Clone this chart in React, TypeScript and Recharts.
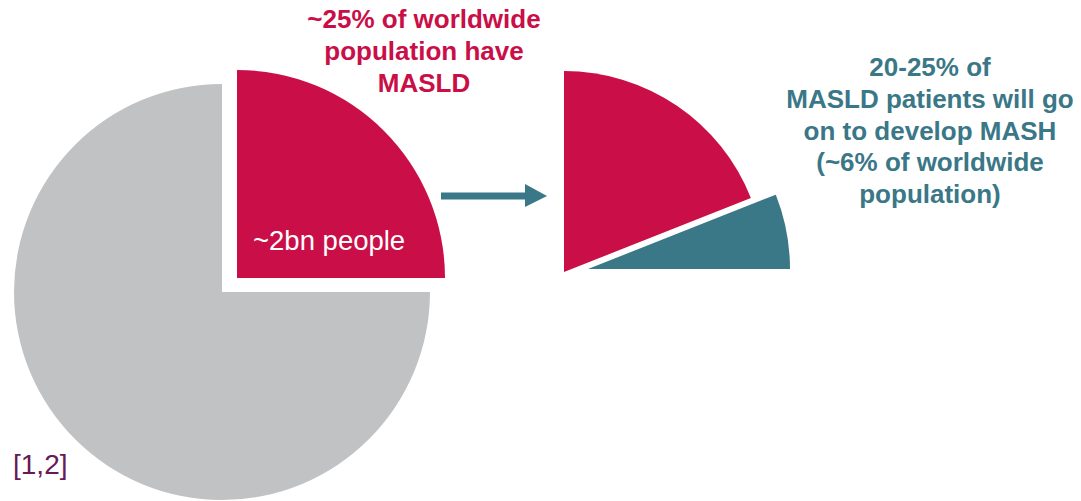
import React from 'react';
import { PieChart, Pie, Cell } from 'recharts';

const worldwideCategories = ['MASLD', 'Other'];
const worldwideValues = [25, 75];
const masldCategories = ['MASH', 'No MASH'];
const masldValues = [24, 76];

const leftTitle = ['~25% of worldwide', 'population have', 'MASLD'];
const rightTitle = ['20-25% of', 'MASLD patients will go', 'on to develop MASH', '(~6% of worldwide', 'population)'];
const sliceLabel = '~2bn people';
const refLabel = '[1,2]';

const RED = '#C90E48';
const TEAL = '#3A7787';
const GRAY = '#C1C2C4';
const PURPLE = '#661A56';

const worldwide = worldwideCategories.map((name, i) => ({ name, value: worldwideValues[i] }));
const masld = masldCategories.map((name, i) => ({ name, value: masldValues[i] }));

const W = 1081;
const H = 501;

export default function App() {
  const font = 'Liberation Sans, Arial, sans-serif';
  return (
    <div style={{ position: 'absolute', left: 0, top: 0, width: W, height: H, background: '#fff' }}>
      <PieChart width={W} height={H} margin={{ top: 0, right: 0, bottom: 0, left: 0 }}>
        <Pie data={worldwide} dataKey="value" nameKey="name" cx={222} cy={292} outerRadius={208} innerRadius={0}
          startAngle={0} endAngle={360} stroke="none" isAnimationActive={false}>
          <Cell fill="transparent" />
          <Cell fill={GRAY} />
        </Pie>
        <Pie data={worldwide} dataKey="value" nameKey="name" cx={237} cy={278} outerRadius={208} innerRadius={0}
          startAngle={0} endAngle={360} stroke="none" isAnimationActive={false}>
          <Cell fill={RED} />
          <Cell fill="transparent" />
        </Pie>
        <Pie data={masld} dataKey="value" nameKey="name" cx={564} cy={272} outerRadius={201} innerRadius={0}
          startAngle={0} endAngle={90} stroke="none" isAnimationActive={false}>
          <Cell fill="transparent" />
          <Cell fill={RED} />
        </Pie>
        <Pie data={masld} dataKey="value" nameKey="name" cx={588} cy={269} outerRadius={202} innerRadius={0}
          startAngle={0} endAngle={90} stroke="none" isAnimationActive={false}>
          <Cell fill={TEAL} />
          <Cell fill="transparent" />
        </Pie>
      </PieChart>
      <svg width={W} height={H} style={{ position: 'absolute', left: 0, top: 0, pointerEvents: 'none' }}>
        <g fontFamily={font} fontWeight="bold" fontSize={26} fill={RED} textAnchor="middle">
          {leftTitle.map((t, i) => (
            <text key={t} x={424} y={28 + i * 32}>{t}</text>
          ))}
        </g>
        <g fontFamily={font} fontWeight="bold" fontSize={26} fill={TEAL} textAnchor="middle">
          {rightTitle.map((t, i) => (
            <text key={t} x={930} y={76 + i * 31.75}>{t}</text>
          ))}
        </g>
        <text x={253} y={250} fontFamily={font} fontSize={27.5} fill="#fff">{sliceLabel}</text>
        <text x={13} y={474} fontFamily={font} fontSize={28} fill={PURPLE}>{refLabel}</text>
        <rect x={441} y={192.5} width={86} height={7} fill={TEAL} />
        <polygon points="525,184 547,196 525,207" fill={TEAL} />
      </svg>
    </div>
  );
}
